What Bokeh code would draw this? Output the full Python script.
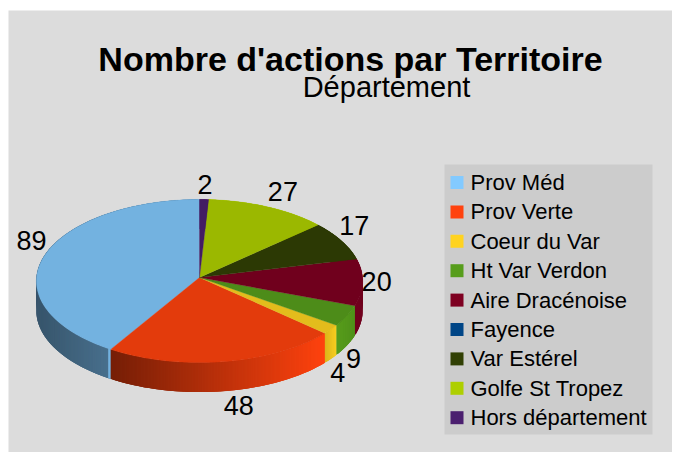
import math
from bokeh.plotting import figure
from bokeh.models import Range1d
from bokeh.core.properties import value
from bokeh.embed import file_html
from bokeh.resources import INLINE

TITLE = "Nombre d'actions par Territoire"
SUBTITLE = "Département"
territories = ["Prov Méd", "Prov Verte", "Coeur du Var", "Ht Var Verdon", "Aire Dracénoise",
               "Fayence", "Var Estérel", "Golfe St Tropez", "Hors département"]
actions = [89, 48, 4, 9, 20, 0, 17, 27, 2]
colors = ["#83caff", "#ff420e", "#ffd320", "#579d1c", "#7e0021",
          "#004586", "#314004", "#aecf00", "#4b1f6f"]

# style: shade multipliers and label nudges, by slice
top_shade = [0.88, 0.89, 0.89, 0.89, 0.89, 0.89, 0.89, 0.89, 0.89]
side_left = [0.42, 0.46, 0.86, 1.00, 0.90, 1, 1, 1, 1]
side_right = [0.72, 1.00, 0.98, 0.92, 0.90, 1, 1, 1, 1]
label_dx = [-13, 14.5, 7, 6.5, 14, 0, 13, 15, 1]
label_dy = [-15, 44, 43, 43, -1, 0, -15, -15, -15]

CX, CY, RX, RY, K, DEPTH = 199.0, 277.0, 163.0, 81.4, 0.043, 29.5


def proj(deg):
    t = math.radians(deg)
    u, v = -math.sin(t), math.cos(t)
    s = 1 / (1 + K * v)
    return CX + RX * u * s, CY - RY * v * s


def shade(col, f):
    rgb = [int(col[i:i + 2], 16) for i in (1, 3, 5)]
    return "#%02x%02x%02x" % tuple(min(255, round(c * f)) for c in rgb)


p = figure(width=672, height=452, output_backend="svg", toolbar_location=None,
           x_range=Range1d(0, 672), y_range=Range1d(452, 0),
           min_border=0, outline_line_color=None)
p.axis.visible = False
p.grid.visible = False
p.background_fill_color = "white"
p.border_fill_color = "white"

# panel
p.quad(left=[8], right=[672], top=[10], bottom=[452], fill_color="#dcdcdc", line_color=None)

total = sum(actions)
start = 0.0
sx, sy, sc, tx, ty, tc = [], [], [], [], [], []
lx, ly, lt = [], [], []
for i, n in enumerate(actions):
    a0 = start
    a1 = start + n / total * 360
    start = a1
    if n == 0:
        continue
    # top face
    steps = max(2, int(a1 - a0) * 2)
    ang = [a0 + (a1 - a0) * j / steps for j in range(steps + 1)]
    pts = [proj(a) for a in ang]
    tx.append([CX] + [q[0] for q in pts])
    ty.append([CY] + [q[1] for q in pts])
    tc.append(shade(colors[i], top_shade[i]))
    # visible side, shaded left to right; each strip runs under the next to hide seams
    xs = [q[0] for q in pts]
    xmin, xmax = min(xs), max(xs)
    for j in range(steps):
        x0, y0 = pts[j]
        x1, y1 = pts[min(j + 3, steps)]
        f = (pts[j][0] - xmin) / max(1.0, xmax - xmin)
        m = side_left[i] + (side_right[i] - side_left[i]) * f
        if i == 0 and a1 - ang[j] < 1.2:
            m = 0.88
        sx.append([x0, x1, x1, x0])
        sy.append([y0, y1, y1 + DEPTH, y0 + DEPTH])
        sc.append(shade(colors[i], m))
    # label
    mx, my = proj((a0 + a1) / 2)
    lx.append(mx + label_dx[i])
    ly.append(my + label_dy[i])
    lt.append(str(n))

p.patches(sx, sy, fill_color=sc, line_color=None)
p.patches(tx, ty, fill_color=tc, line_color=tc, line_width=0.3)

p.text(lx, ly, text=lt, text_font=value("Liberation Sans"), text_font_size="27px",
       text_align="center", text_baseline="middle", text_color="#000000")

# titles
p.text([350], [58], text=[TITLE], text_font=value("Liberation Sans"), text_font_style="bold",
       text_font_size="34px", text_align="center", text_baseline="middle", text_color="#000000")
p.text([386], [86], text=[SUBTITLE], text_font=value("Liberation Sans"),
       text_font_size="29px", text_align="center", text_baseline="middle", text_color="#000000")

# legend
p.quad(left=[444], right=[652], top=[164], bottom=[434], fill_color="#cccccc", line_color=None)
rows = [182 + 29.4 * i for i in range(len(territories))]
p.quad(left=[450] * 9, right=[463] * 9, top=[r - 6.5 for r in rows], bottom=[r + 6.5 for r in rows],
       fill_color=colors, line_color=None)
p.text([470] * 9, rows, text=territories, text_font=value("Liberation Sans"), text_font_size="22px",
       text_align="left", text_baseline="middle", text_color="#000000")

open("out.html", "w").write(file_html(p, INLINE))
